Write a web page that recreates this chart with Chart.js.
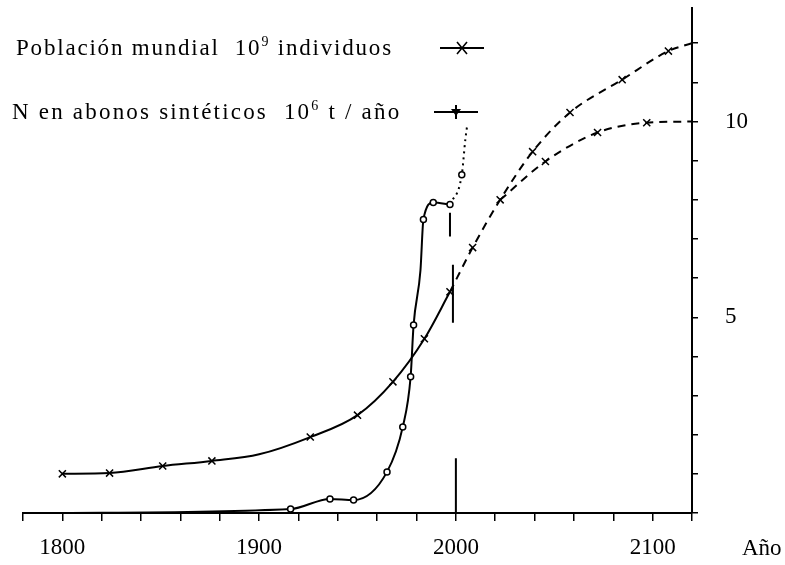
<!DOCTYPE html>
<html lang="es">
<head>
<meta charset="utf-8">
<title>Población mundial y N en abonos sintéticos</title>
<script src="https://cdn.jsdelivr.net/npm/chart.js@4.4.1/dist/chart.umd.min.js"></script>
<style>
  html, body { margin: 0; padding: 0; background: #fff; }
  #wrap { position: relative; width: 785px; height: 565px; font-family: "Liberation Serif", "Times New Roman", serif; color: #000; }
  #grafico { position: absolute; left: 0; top: 0; }
  .fila { position: absolute; font-size: 23px; line-height: 28px; white-space: pre; }
  .fila sup { font-size: 14px; line-height: 0; }
  .muestra { position: absolute; }
  #anio { position: absolute; left: 742px; top: 534px; font-size: 23px; line-height: 28px; }
</style>
</head>
<body>
<div id="wrap">
  <canvas id="grafico" width="785" height="565"></canvas>
  <div id="leyenda"></div>
  <div id="anio"></div>
</div>
<script>
// Población mundial (10^9 individuos), serie histórica
const popYears = [1800, 1824, 1851, 1876, 1900, 1926, 1950, 1968, 1984, 1997];
const popValues = [1.0, 1.02, 1.2, 1.33, 1.5, 1.94, 2.5, 3.35, 4.45, 5.65];

// proyecciones (alta y baja)
const popHighYears = [1997, 2008.5, 2022.5, 2039, 2058, 2084.5, 2108, 2120];
const popHighValues = [5.65, 6.78, 8.0, 9.23, 10.23, 11.07, 11.8, 12.0];
const popLowYears = [2022.5, 2045.5, 2072, 2097, 2120];
const popLowValues = [8.0, 8.98, 9.72, 9.97, 10.0];

// N en abonos sintéticos (10^6 t / año)
const nYears = [1800, 1916, 1936, 1948, 1965, 1973, 1977, 1978.5, 1982, 1983.5, 1988.5, 1997];
const nValues = [0, 0.1, 0.36, 0.33, 1.05, 2.2, 3.48, 4.8, 6.2, 7.5, 7.93, 7.88];
const nProjYears = [1997, 2003, 2004.8, 2005.6];
const nProjValues = [7.88, 8.64, 9.54, 9.85];

// trazos verticales en el año 2000
const mark2000Years = [1997, 1998.5, 2000];
const mark2000Top = [7.67, 6.34, 1.4];
const mark2000Bottom = [7.06, 4.86, 0];

const xTickLabels = [1800, 1900, 2000, 2100];
const yTickLabels = [5, 10];
const xAxisLabel = 'Año';

const legendRows = [
    ['Población mundial  10', '9', ' individuos'],
    ['N en abonos sintéticos  10', '6', ' t / año']
];

// estilos de marcadores (no son datos)
const popMarkers = [5, 5, 5, 5, 0, 5, 5, 5, 5, 5];
const popHighMarkers = [0, 5, 5, 5, 5, 5, 5, 0];
const popLowMarkers = [0, 5, 5, 5, 0];
const nMarkers = [0, 3, 3, 3, 3, 3, 3, 3, 0, 3, 3, 3];
const nProjMarkers = [0, 3, 0, 0];

function toPoints(xs, ys) {
    return xs.map((x, i) => ({ x: x, y: ys[i] }));
}

// segmentos separados por huecos
const mark2000 = [];
mark2000Years.forEach((yr, i) => {
    mark2000.push({ x: yr, y: mark2000Top[i] });
    mark2000.push({ x: yr, y: mark2000Bottom[i] });
    mark2000.push({ x: yr + 0.1, y: null });
});

// leyenda en HTML
const legendPos = [{ left: 16, top: 34, ls: 1.8, sx: 440 }, { left: 12, top: 98, ls: 2.2, sx: 434 }];
const legendSamples = [
    '<svg width="44" height="16"><line x1="0" y1="8" x2="44" y2="8" stroke="#000" stroke-width="2"/>' +
        '<path d="M17 2 L27 14 M17 14 L27 2" stroke="#000" stroke-width="1.6" fill="none"/></svg>',
    '<svg width="44" height="16"><line x1="0" y1="8" x2="44" y2="8" stroke="#000" stroke-width="2"/>' +
        '<path d="M17 5 L27 5 L22 12 Z" fill="#000"/><line x1="22" y1="1" x2="22" y2="15" stroke="#000" stroke-width="2"/></svg>'
];
const leyenda = document.getElementById('leyenda');
legendRows.forEach((row, i) => {
    const p = legendPos[i];
    const div = document.createElement('div');
    div.className = 'fila';
    div.style.left = p.left + 'px';
    div.style.top = p.top + 'px';
    div.style.letterSpacing = p.ls + 'px';
    div.appendChild(document.createTextNode(row[0]));
    const sup = document.createElement('sup');
    sup.textContent = row[1];
    div.appendChild(sup);
    div.appendChild(document.createTextNode(row[2]));
    leyenda.appendChild(div);

    const m = document.createElement('div');
    m.className = 'muestra';
    m.style.left = p.sx + 'px';
    m.style.top = (p.top + 6) + 'px';
    m.innerHTML = legendSamples[i];
    leyenda.appendChild(m);
});
document.getElementById('anio').textContent = xAxisLabel;

const base = {
    borderColor: '#000',
    borderWidth: 2,
    pointBorderColor: '#000',
    pointBackgroundColor: '#fff',
    pointBorderWidth: 1.5,
    fill: false,
    cubicInterpolationMode: 'monotone'
};

const fontEje = { family: 'Liberation Serif', size: 23 };

new Chart(document.getElementById('grafico'), {
    type: 'line',
    data: {
        datasets: [
            Object.assign({}, base, {
                label: 'Población mundial',
                data: toPoints(popYears, popValues),
                pointStyle: 'crossRot',
                pointRadius: popMarkers
            }),
            Object.assign({}, base, {
                label: 'Población mundial (proyección alta)',
                data: toPoints(popHighYears, popHighValues),
                borderDash: [8, 6],
                pointStyle: 'crossRot',
                pointRadius: popHighMarkers
            }),
            Object.assign({}, base, {
                label: 'Población mundial (proyección baja)',
                data: toPoints(popLowYears, popLowValues),
                borderDash: [8, 6],
                pointStyle: 'crossRot',
                pointRadius: popLowMarkers
            }),
            Object.assign({}, base, {
                label: 'N en abonos sintéticos',
                data: toPoints(nYears, nValues),
                pointStyle: 'circle',
                pointRadius: nMarkers
            }),
            Object.assign({}, base, {
                label: 'N en abonos sintéticos (proyección)',
                data: toPoints(nProjYears, nProjValues),
                borderDash: [2, 4],
                pointStyle: 'circle',
                pointRadius: nProjMarkers
            }),
            Object.assign({}, base, {
                label: '2000',
                data: mark2000,
                pointRadius: 0,
                spanGaps: false,
                cubicInterpolationMode: 'default',
                tension: 0
            })
        ]
    },
    options: {
        responsive: false,
        animation: false,
        devicePixelRatio: 1,
        layout: { padding: { left: 23, top: 8, right: 37, bottom: 3 } },
        plugins: { legend: { display: false }, tooltip: { enabled: false } },
        scales: {
            x: {
                type: 'linear',
                min: 1780,
                max: 2120,
                border: { display: true, color: '#000', width: 2 },
                grid: { drawOnChartArea: false, drawTicks: true, tickLength: 8, color: '#000', lineWidth: 1.5 },
                afterFit: s => { s.height = 49; s.paddingLeft = 0; s.paddingRight = 0; },
                ticks: {
                    stepSize: 20,
                    autoSkip: false,
                    maxRotation: 0,
                    padding: 13,
                    color: '#000',
                    font: fontEje,
                    callback: v => xTickLabels.includes(v) ? String(v) : ''
                }
            },
            y: {
                type: 'linear',
                position: 'right',
                min: 0,
                max: 12.9,
                border: { display: true, color: '#000', width: 2 },
                grid: { drawOnChartArea: false, drawTicks: true, tickLength: 6, color: '#000', lineWidth: 1.5 },
                afterBuildTicks: s => { s.ticks = s.ticks.filter(t => Number.isInteger(t.value)); },
                afterFit: s => { s.width = 56; s.paddingTop = 0; s.paddingBottom = 0; },
                ticks: {
                    stepSize: 1,
                    padding: 27,
                    color: '#000',
                    font: fontEje,
                    callback: v => yTickLabels.includes(v) ? String(v) : ''
                }
            }
        }
    }
});
</script>
</body>
</html>
